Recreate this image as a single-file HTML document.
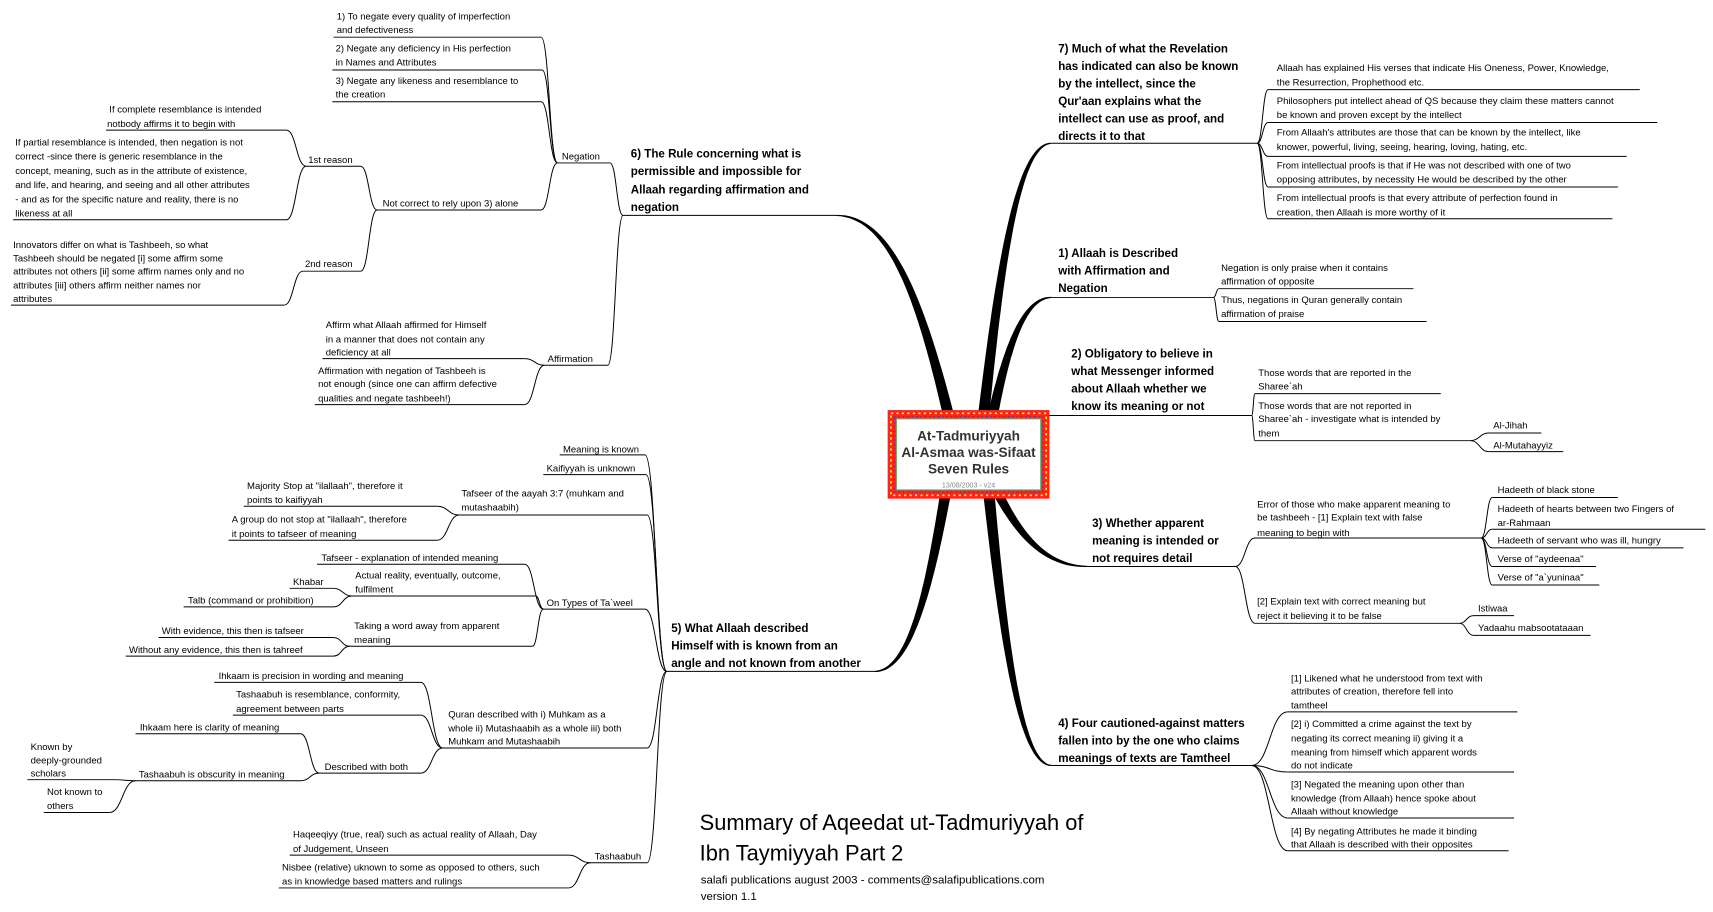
<!DOCTYPE html>
<html><head><meta charset="utf-8"><style>
html,body{margin:0;padding:0;background:#fff;width:1713px;height:912px;overflow:hidden}
svg{display:block}
text{font-family:"Liberation Sans",sans-serif;fill:#000}
.s{font-size:8.7px}
.h{font-size:10.6px;font-weight:bold}
</style></head><body>
<svg id="m" width="1713" height="912" viewBox="0 0 1567 834" preserveAspectRatio="none" xmlns="http://www.w3.org/2000/svg">
<g id="thick"></g>
<g id="lines" fill="none" stroke="#000" stroke-width="0.9"></g>
<!-- center box -->
<rect x="812" y="375" width="148" height="81" fill="#f22"/>
<rect x="815" y="378" width="142" height="75" fill="none" stroke="#ff0" stroke-width="1.5" stroke-dasharray="2 3"/>
<rect x="818" y="381" width="136" height="69" fill="none" stroke="#33a" stroke-width="1" stroke-dasharray="1 3"/>
<rect x="820" y="383" width="132" height="65" fill="#fff" stroke="#6a6" stroke-width="1"/>
<g text-anchor="middle" style="font-weight:bold;font-size:12.5px">
<text x="886" y="403" style="fill:#333">At-Tadmuriyyah</text>
<text x="886" y="418" style="fill:#333">Al-Asmaa was-Sifaat</text>
<text x="886" y="433" style="fill:#333">Seven Rules</text>
<text x="886" y="446" style="font-size:6.5px;font-weight:normal;fill:#888">13/08/2003 - v24</text>
</g>

<g class="h">
<text x="968" y="48">7) Much of what the Revelation</text>
<text x="968" y="64">has indicated can also be known</text>
<text x="968" y="80">by the intellect, since the</text>
<text x="968" y="96">Qur'aan explains what the</text>
<text x="968" y="112">intellect can use as proof, and</text>
<text x="968" y="128">directs it to that</text>
<text x="968" y="235">1) Allaah is Described</text>
<text x="968" y="251">with Affirmation and</text>
<text x="968" y="267">Negation</text>
<text x="980" y="327">2) Obligatory to believe in</text>
<text x="980" y="343">what Messenger informed</text>
<text x="980" y="359">about Allaah whether we</text>
<text x="980" y="375">know its meaning or not</text>
<text x="999" y="482">3) Whether apparent</text>
<text x="999" y="498">meaning is intended or</text>
<text x="999" y="514">not requires detail</text>
<text x="968" y="665">4) Four cautioned-against matters</text>
<text x="968" y="681">fallen into by the one who claims</text>
<text x="968" y="697">meanings of texts are Tamtheel</text>
<text x="577" y="144">6) The Rule concerning what is</text>
<text x="577" y="160">permissible and impossible for</text>
<text x="577" y="177">Allaah regarding affirmation and</text>
<text x="577" y="193">negation</text>
<text x="614" y="578">5) What Allaah described</text>
<text x="614" y="594">Himself with is known from an</text>
<text x="614" y="610">angle and not known from another</text>
</g>
<g class="s">
<text x="1168" y="65">Allaah has explained His verses that indicate His Oneness, Power, Knowledge,</text>
<text x="1168" y="78">the Resurrection, Prophethood etc.</text>
<text x="1168" y="95">Philosophers put intellect ahead of QS because they claim these matters cannot</text>
<text x="1168" y="108">be known and proven except by the intellect</text>
<text x="1168" y="124">From Allaah's attributes are those that can be known by the intellect, like</text>
<text x="1168" y="137">knower, powerful, living, seeing, hearing, loving, hating, etc.</text>
<text x="1168" y="154">From intellectual proofs is that if He was not described with one of two</text>
<text x="1168" y="167">opposing attributes, by necessity He would be described by the other</text>
<text x="1168" y="184">From intellectual proofs is that every attribute of perfection found in</text>
<text x="1168" y="197">creation, then Allaah is more worthy of it</text>

<text x="1117" y="248">Negation is only praise when it contains</text>
<text x="1117" y="260">affirmation of opposite</text>
<text x="1117" y="277">Thus, negations in Quran generally contain</text>
<text x="1117" y="290">affirmation of praise</text>

<text x="1151" y="344">Those words that are reported in the</text>
<text x="1151" y="356">Sharee`ah</text>
<text x="1151" y="374">Those words that are not reported in</text>
<text x="1151" y="386">Sharee`ah - investigate what is intended by</text>
<text x="1151" y="399">them</text>
<text x="1366" y="392">Al-Jihah</text>
<text x="1366" y="410">Al-Mutahayyiz</text>

<text x="1150" y="464">Error of those who make apparent meaning to</text>
<text x="1150" y="476">be tashbeeh - [1] Explain text with false</text>
<text x="1150" y="490">meaning to begin with</text>
<text x="1370" y="451">Hadeeth of black stone</text>
<text x="1370" y="468">Hadeeth of hearts between two Fingers of</text>
<text x="1370" y="481">ar-Rahmaan</text>
<text x="1370" y="497">Hadeeth of servant who was ill, hungry</text>
<text x="1370" y="514">Verse of "aydeenaa"</text>
<text x="1370" y="531">Verse of "a`yuninaa"</text>
<text x="1150" y="553">[2] Explain text with correct meaning but</text>
<text x="1150" y="566">reject it believing it to be false</text>
<text x="1352" y="559">Istiwaa</text>
<text x="1352" y="577">Yadaahu mabsootataaan</text>

<text x="1181" y="623">[1] Likened what he understood from text with</text>
<text x="1181" y="635">attributes of creation, therefore fell into</text>
<text x="1181" y="648">tamtheel</text>
<text x="1181" y="665">[2]   i) Committed a crime against the text by</text>
<text x="1181" y="678">negating its correct meaning ii) giving it a</text>
<text x="1181" y="691">meaning from himself which apparent words</text>
<text x="1181" y="703">do not indicate</text>
<text x="1181" y="720">[3] Negated the meaning upon other than</text>
<text x="1181" y="733">knowledge (from Allaah) hence spoke about</text>
<text x="1181" y="745">Allaah without knowledge</text>
<text x="1181" y="763">[4] By negating Attributes he made it binding</text>
<text x="1181" y="775">that Allaah is described with their opposites</text>

<text x="514" y="146">Negation</text>
<text x="308" y="18">1) To negate every quality of imperfection</text>
<text x="308" y="30">and defectiveness</text>
<text x="307" y="47">2) Negate any deficiency in His perfection</text>
<text x="307" y="60">in Names and Attributes</text>
<text x="307" y="77">3) Negate any likeness and resemblance to</text>
<text x="307" y="89">the creation</text>
<text x="350" y="189">Not correct to rely upon 3) alone</text>
<text x="282" y="149">1st reason</text>
<text x="279" y="244">2nd reason</text>
<text x="100" y="103">If complete resemblance is intended</text>
<text x="98" y="116">notbody affirms it to begin with</text>
<text x="14" y="133">If partial resemblance is intended, then negation is not</text>
<text x="14" y="146">correct -since there is generic resemblance in the</text>
<text x="14" y="159">concept, meaning, such as in the attribute of existence,</text>
<text x="14" y="172">and life, and hearing, and seeing and all other attributes</text>
<text x="14" y="185">- and as for the specific nature and reality, there is no</text>
<text x="14" y="198">likeness at all</text>
<text x="12" y="227">Innovators differ on what is Tashbeeh, so what</text>
<text x="12" y="239">Tashbeeh should be negated [i] some affirm some</text>
<text x="12" y="251">attributes not others [ii] some affirm names only and no</text>
<text x="12" y="264">attributes  [iii] others affirm neither names nor</text>
<text x="12" y="276">attributes</text>
<text x="501" y="331">Affirmation</text>
<text x="298" y="300">Affirm what Allaah affirmed for Himself</text>
<text x="298" y="313">in a manner that does not contain any</text>
<text x="298" y="325">deficiency at all</text>
<text x="291" y="342">Affirmation with negation of Tashbeeh is</text>
<text x="291" y="354">not enough (since one can affirm defective</text>
<text x="291" y="367">qualities and negate tashbeeh!)</text>

<text x="515" y="414">Meaning is known</text>
<text x="500" y="431">Kaifiyyah is unknown</text>
<text x="422" y="454">Tafseer of the aayah 3:7 (muhkam and</text>
<text x="422" y="467">mutashaabih)</text>
<text x="226" y="447">Majority Stop at "ilallaah", therefore it</text>
<text x="226" y="460">points to kaifiyyah</text>
<text x="212" y="478">A group do not stop at "ilallaah", therefore</text>
<text x="212" y="491">it points to tafseer of meaning</text>
<text x="500" y="554">On Types of Ta`weel</text>
<text x="294" y="513">Tafseer - explanation of intended meaning</text>
<text x="325" y="529">Actual reality, eventually, outcome,</text>
<text x="325" y="542">fulfilment</text>
<text x="268" y="535">Khabar</text>
<text x="172" y="552">Talb (command or prohibition)</text>
<text x="324" y="575">Taking a word away from apparent</text>
<text x="324" y="588">meaning</text>
<text x="148" y="580">With evidence, this then is tafseer</text>
<text x="118" y="597">Without any evidence, this then is tahreef</text>
<text x="410" y="656">Quran described with i) Muhkam as a</text>
<text x="410" y="669">whole ii) Mutashaabih as a whole iii) both</text>
<text x="410" y="681">Muhkam and Mutashaabih</text>
<text x="200" y="621">Ihkaam is precision in wording and meaning</text>
<text x="216" y="638">Tashaabuh is resemblance, conformity,</text>
<text x="216" y="651">agreement between parts</text>
<text x="297" y="704">Described with both</text>
<text x="128" y="668">Ihkaam here is clarity of meaning</text>
<text x="127" y="711">Tashaabuh is obscurity in meaning</text>
<text x="28" y="686">Known by</text>
<text x="28" y="698">deeply-grounded</text>
<text x="28" y="710">scholars</text>
<text x="43" y="727">Not known to</text>
<text x="43" y="740">others</text>
<text x="544" y="786">Tashaabuh</text>
<text x="268" y="766">Haqeeqiyy (true, real) such as actual reality of Allaah, Day</text>
<text x="268" y="779">of Judgement, Unseen</text>
<text x="258" y="796">Nisbee (relative) uknown to some as opposed to others, such</text>
<text x="258" y="809">as in knowledge based matters and rulings</text>
</g>
<text x="640" y="759" style="font-size:20px">Summary of Aqeedat ut-Tadmuriyyah of</text>
<text x="640" y="787" style="font-size:20px">Ibn Taymiyyah Part 2</text>
<text x="641" y="808" style="font-size:10.5px">salafi publications august 2003 - comments@salafipublications.com</text>
<text x="641" y="823" style="font-size:10.5px">version 1.1</text>
</svg>
<script>
var NS="http://www.w3.org/2000/svg",L=document.getElementById("lines"),T=document.getElementById("thick");
function P(d,w){var p=document.createElementNS(NS,"path");p.setAttribute("d",d);if(w)p.setAttribute("stroke-width",w);L.appendChild(p);}
function U(a,b,y){P("M"+a+" "+y+"H"+b);}
function C(px,py,cx,cy){var m=(px+cx)/2;P("M"+px+" "+py+"C"+m+" "+py+" "+m+" "+cy+" "+cx+" "+cy);}
var ul=[[962,1150,131],[1160,1500,82],[1160,1516,112],[1160,1488,143],[1160,1480,171],[1160,1475,200],
[962,1110,272],[1115,1293,264],[1115,1305,294],
[975,1145,380],[1148,1318,360],[1148,1345,403],[1362,1410,396],[1362,1430,413],
[995,1130,518],[1148,1355,492],[1148,1335,570],[1365,1480,455],[1365,1560,484],[1365,1540,501],[1365,1460,518],[1365,1463,535],[1348,1385,563],[1348,1455,581],
[962,1145,700],[1178,1388,651],[1178,1385,706],[1178,1385,748],[1178,1380,778],
[570,765,197],[510,558,149],[305,495,34],[304,496,64],[304,495,93],[345,495,192],[280,330,152],[277,330,248],[97,262,119],[12,262,201],[10,260,279],
[498,556,334],[295,480,328],[288,480,370],
[610,800,614],[512,590,416],[497,591,434],[420,592,471],[223,400,463],[209,400,494],[497,590,557],[290,480,516],[322,490,545],[265,305,538],[168,305,555],[320,487,591],[145,305,583],[115,305,600],
[405,592,684],[196,385,624],[213,385,654],[292,385,707],[124,275,671],[124,275,714],[25,105,713],[40,100,743],[540,592,789],[265,520,782],[255,520,812]];
ul.forEach(function(u){U(u[0],u[1],u[2]);});
var cn=[[1150,131,1160,82],[1150,131,1160,112],[1150,131,1160,143],[1150,131,1160,171],[1150,131,1160,200],
[1110,272,1115,264],[1110,272,1115,294],[1145,380,1148,360],[1145,380,1148,403],[1345,403,1362,396],[1345,403,1362,413],
[1130,518,1148,492],[1130,518,1148,570],[1355,492,1365,455],[1355,492,1365,484],[1355,492,1365,501],[1355,492,1365,518],[1355,492,1365,535],[1335,570,1348,563],[1335,570,1348,581],
[1145,700,1178,651],[1145,700,1178,706],[1145,700,1178,748],[1145,700,1178,778],
[570,197,558,149],[570,197,556,334],[510,149,495,34],[510,149,496,64],[510,149,495,93],[510,149,495,192],
[345,192,330,152],[345,192,330,248],[280,152,262,119],[280,152,262,201],[277,248,260,279],[498,334,480,328],[498,334,480,370],
[610,614,590,416],[610,614,591,434],[610,614,592,471],[610,614,590,557],[610,614,592,684],[610,614,592,789],
[420,471,400,463],[420,471,400,494],[497,557,480,516],[497,557,490,545],[497,557,487,591],[322,545,305,538],[322,545,305,555],[320,591,305,583],[320,591,305,600],
[405,684,385,624],[405,684,385,654],[405,684,385,707],[292,707,275,671],[292,707,275,714],[124,714,105,713],[124,714,100,743],[540,789,520,782],[540,789,520,812]];
cn.forEach(function(c){C(c[0],c[1],c[2],c[3]);});
P("M960 380H975");
function B(x3,y3,sx){var x0=886+sx,y0=415;var x1=x0+(x3-x0)*0.25,y1=y0+(y3-y0)*0.55,x2=x0+(x3-x0)*0.5,y2=y3;
var N=40,A=[],Bb=[];for(var i=0;i<=N;i++){var t=i/N,mt=1-t;
var x=mt*mt*mt*x0+3*mt*mt*t*x1+3*mt*t*t*x2+t*t*t*x3,y=mt*mt*mt*y0+3*mt*mt*t*y1+3*mt*t*t*y2+t*t*t*y3;
var dx=3*mt*mt*(x1-x0)+6*mt*t*(x2-x1)+3*t*t*(x3-x2),dy=3*mt*mt*(y1-y0)+6*mt*t*(y2-y1)+3*t*t*(y3-y2);var l=Math.sqrt(dx*dx+dy*dy)||1;
var w=5*(1-t)+0.5;A.push((x-dy/l*w).toFixed(1)+" "+(y+dx/l*w).toFixed(1));Bb.unshift((x+dy/l*w).toFixed(1)+" "+(y-dx/l*w).toFixed(1));}
var p=document.createElementNS(NS,"path");p.setAttribute("d","M"+A.join("L")+"L"+Bb.join("L")+"Z");p.setAttribute("fill","#000");T.appendChild(p);}
B(962,131,10);B(962,272,15);B(995,518,10);B(962,700,15);B(765,197,-10);B(800,614,-15);
</script>
</body></html>
